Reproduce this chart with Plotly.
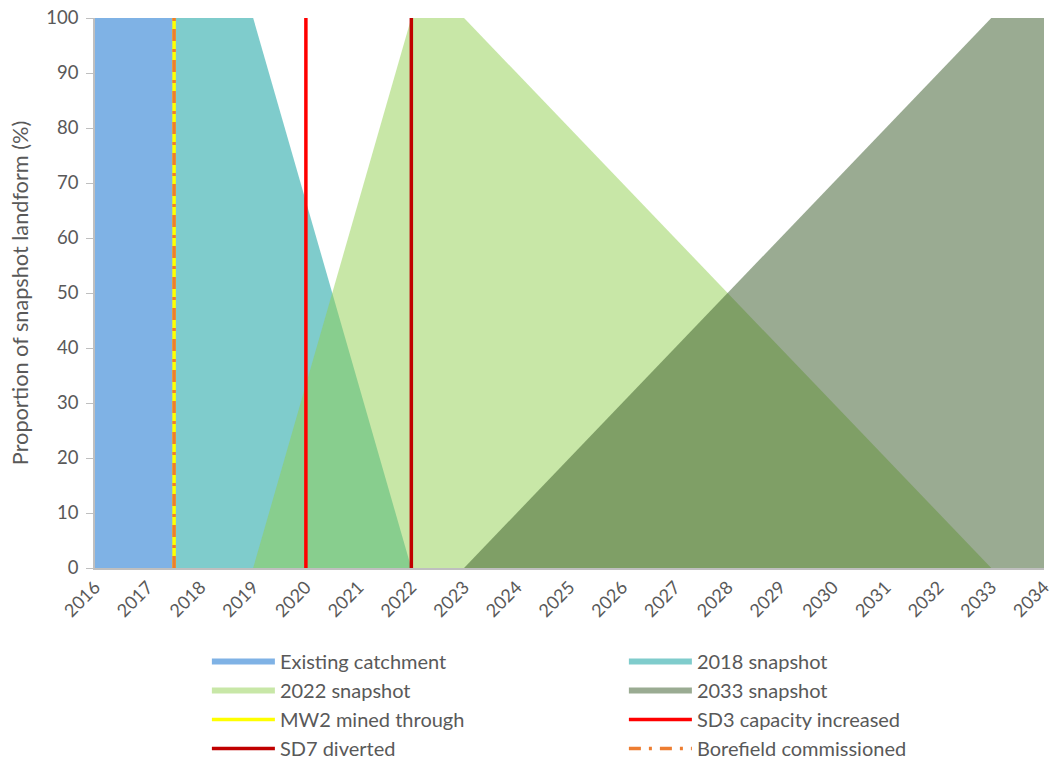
import plotly.graph_objects as go

# ---- data ----
existing_x = [2016, 2017.5]
existing_y = [100, 100]
snap2018_x = [2017.5, 2019, 2022]
snap2018_y = [100, 100, 0]
snap2022_x = [2019, 2022, 2023, 2033]
snap2022_y = [0, 100, 100, 0]
snap2033_x = [2023, 2033, 2034]
snap2033_y = [0, 100, 100]

mw2_year = 2017.5
sd3_year = 2020
sd7_year = 2022
borefield_year = 2017.5

tick_years = list(range(2016, 2035))

fig = go.Figure()

def area(x, y, name, color):
    fig.add_trace(go.Scatter(x=x, y=y, name=name, mode="none", fill="tozeroy",
                             fillcolor=color, hoverinfo="skip"))

area(existing_x, existing_y, "Existing catchment", "rgba(0,102,204,0.5)")
area(snap2018_x, snap2018_y, "2018 snapshot", "rgba(0,153,153,0.5)")
area(snap2022_x, snap2022_y, "2022 snapshot", "rgba(146,208,80,0.5)")
area(snap2033_x, snap2033_y, "2033 snapshot", "rgba(53,87,37,0.5)")

def vline(year, name, color, dash="solid"):
    fig.add_trace(go.Scatter(x=[year, year], y=[0, 100], name=name, mode="lines",
                             line=dict(color=color, width=3.5, dash=dash)))

vline(mw2_year, "MW2 mined through", "#FFFF00")
vline(sd3_year, "SD3 capacity increased", "#FF0000")
vline(sd7_year, "SD7 diverted", "#C00000")
vline(borefield_year, "Borefield commissioned", "#ED7D31", dash="12px,8px,3px,8px")

font_family = "Lato, Open Sans, sans-serif"
gray = "#595959"

fig.update_layout(
    width=1055, height=763,
    margin=dict(l=95, r=11, t=18, b=195, autoexpand=False),
    paper_bgcolor="white", plot_bgcolor="white",
    font=dict(family=font_family, size=17, color=gray),
    showlegend=True,
    legend=dict(orientation="h", x=0.1179, y=-0.1345, xanchor="left", yanchor="top",
                entrywidth=339, entrywidthmode="pixels", itemwidth=63,
                font=dict(size=20, color=gray), traceorder="normal",
                tracegroupgap=0),
    xaxis=dict(range=[2016, 2034], tickmode="array", tickvals=tick_years,
               ticktext=[str(y) for y in tick_years], tickangle=-45,
               showgrid=False, zeroline=False, showline=True, linecolor="#BFBFBF",
               linewidth=1.5, ticks="", tickfont=dict(size=18, color=gray),
               automargin=False),
    yaxis=dict(range=[0, 100], dtick=10, showgrid=False, zeroline=False,
               showline=True, linecolor="#BFBFBF", linewidth=1.5,
               ticks="outside", ticklen=7, tickcolor="#BFBFBF",
               ticklabelstandoff=4,
               title=dict(text="Proportion of snapshot landform (%)",
                          font=dict(size=21.7, color=gray), standoff=12),
               tickfont=dict(size=18.5, color=gray), automargin=False),
)

fig.write_html("out.html", config={"displayModeBar": False},
               post_script="document.body.style.margin='0px';")
